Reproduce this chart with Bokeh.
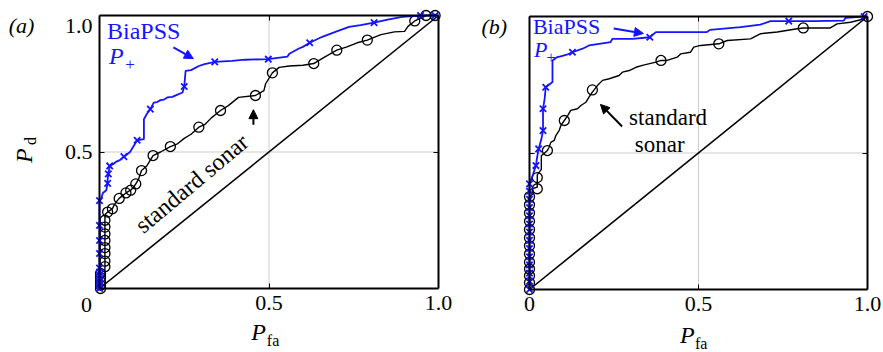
import math
from bokeh.plotting import figure
from bokeh.layouts import row
from bokeh.models import Label, Arrow, NormalHead, LinearAxis, FixedTicker, Range1d
from bokeh.embed import file_html
from bokeh.resources import INLINE

FONT = "Liberation Serif"
BLUE = "#1414ff"

# ---------------- data: panel (a) ----------------
a_chance_x = [0.0, 1.0]
a_chance_y = [0.0, 1.0]

a_bia_x = [0.0, 0.0, 0.005, 0.01, 0.02, 0.024, 0.024, 0.026, 0.03, 0.04,
           0.05, 0.06, 0.072, 0.08, 0.09, 0.10, 0.111, 0.131, 0.131, 0.14,
           0.15, 0.16, 0.17, 0.18, 0.19, 0.20, 0.215, 0.23, 0.245, 0.25,
           0.254, 0.27, 0.293, 0.31, 0.34, 0.391, 0.43, 0.498, 0.554, 0.56,
           0.588, 0.60, 0.62, 0.657, 0.696, 0.736, 0.77, 0.81, 0.85, 0.893,
           0.947, 1.0]
a_bia_y = [0.0, 0.32, 0.33, 0.35, 0.36, 0.385, 0.40, 0.42, 0.449, 0.455,
           0.465, 0.47, 0.483, 0.49, 0.50, 0.52, 0.543, 0.547, 0.62, 0.64,
           0.657, 0.681, 0.683, 0.69, 0.692, 0.70, 0.702, 0.71, 0.718, 0.74,
           0.797, 0.80, 0.815, 0.822, 0.83, 0.834, 0.838, 0.84, 0.849, 0.86,
           0.879, 0.885, 0.90, 0.922, 0.94, 0.958, 0.965, 0.974, 0.985, 0.995,
           1.0, 1.0]
a_bia_mx = [0.0] * 11 + [0.024, 0.026, 0.03, 0.072, 0.111, 0.15, 0.25, 0.34,
                         0.498, 0.62, 0.81, 0.947, 0.99]
a_bia_my = [0.0, 0.012, 0.024, 0.036, 0.048, 0.06, 0.075, 0.128, 0.176, 0.231,
            0.322, 0.385, 0.42, 0.449, 0.483, 0.543, 0.657, 0.74, 0.83,
            0.84, 0.90, 0.974, 1.0, 1.0]

a_std_x = [0.0, 0.0, 0.016, 0.016, 0.024, 0.038, 0.045, 0.058, 0.078, 0.092,
           0.10, 0.107, 0.115, 0.124, 0.14, 0.158, 0.18, 0.209, 0.23, 0.25,
           0.27, 0.293, 0.31, 0.33, 0.357, 0.38, 0.41, 0.46, 0.485, 0.49,
           0.51, 0.53, 0.56, 0.60, 0.632, 0.66, 0.70, 0.73, 0.76, 0.79,
           0.83, 0.87, 0.90, 0.91, 0.93, 0.963, 1.0]
a_std_y = [0.0, 0.03, 0.05, 0.27, 0.28, 0.292, 0.31, 0.33, 0.35, 0.36,
           0.37, 0.383, 0.40, 0.432, 0.45, 0.487, 0.50, 0.52, 0.53, 0.55,
           0.565, 0.591, 0.60, 0.625, 0.652, 0.67, 0.70, 0.707, 0.725, 0.75,
           0.79, 0.81, 0.815, 0.818, 0.824, 0.845, 0.873, 0.885, 0.90, 0.91,
           0.93, 0.94, 0.942, 0.96, 0.98, 1.0, 1.0]
a_std_mx = [0.003] * 5 + [0.016] * 8 + [0.024, 0.038, 0.058, 0.078, 0.092,
                                        0.107, 0.124, 0.158, 0.209, 0.293,
                                        0.357, 0.46, 0.51, 0.632, 0.70, 0.79,
                                        0.93, 0.963, 0.99]
a_std_my = [0.0, 0.012, 0.025, 0.04, 0.055,
            0.08, 0.10, 0.128, 0.15, 0.176, 0.20, 0.225, 0.25,
            0.28, 0.292, 0.33, 0.35, 0.36, 0.383, 0.432, 0.487, 0.52, 0.591,
            0.652, 0.707, 0.79, 0.824, 0.873, 0.91, 0.98, 1.0, 1.0]

# ---------------- data: panel (b) ----------------
b_chance_x = [0.0, 1.0]
b_chance_y = [0.0, 1.0]

b_bia_x = [0.0, 0.0, 0.01, 0.019, 0.022, 0.027, 0.035, 0.04, 0.04, 0.045,
           0.048, 0.068, 0.068, 0.08, 0.095, 0.11, 0.127, 0.157, 0.176, 0.206,
           0.24, 0.245, 0.305, 0.356, 0.374, 0.525, 0.534, 0.624, 0.683, 0.713,
           0.84, 0.93, 0.935, 0.99, 1.0]
b_bia_y = [0.0, 0.387, 0.42, 0.454, 0.48, 0.515, 0.55, 0.582, 0.662, 0.70,
           0.741, 0.76, 0.839, 0.85, 0.855, 0.86, 0.869, 0.882, 0.894, 0.90,
           0.906, 0.918, 0.918, 0.924, 0.943, 0.943, 0.951, 0.961, 0.97, 0.983,
           0.983, 0.985, 0.995, 1.0, 1.0]
b_bia_mx = [0.0] * 14 + [0.019, 0.027, 0.04, 0.04, 0.048, 0.127, 0.356,
                         0.767, 0.99]
b_bia_my = [0.0, 0.03, 0.06, 0.09, 0.12, 0.15, 0.18, 0.21, 0.24, 0.27,
            0.30, 0.33, 0.36, 0.387,
            0.454, 0.515, 0.582, 0.662, 0.741, 0.869, 0.924, 0.983, 1.0]

b_std_x = [0.0, 0.0, 0.01, 0.01, 0.023, 0.023, 0.035, 0.035, 0.053, 0.058,
           0.063, 0.073, 0.078, 0.088, 0.093, 0.103, 0.113, 0.122, 0.142, 0.152,
           0.167, 0.176, 0.186, 0.201, 0.216, 0.236, 0.265, 0.275, 0.295, 0.315,
           0.334, 0.374, 0.389, 0.407, 0.437, 0.447, 0.476, 0.486, 0.506, 0.56,
           0.585, 0.654, 0.684, 0.733, 0.792, 0.81, 0.89, 0.91, 0.95, 0.989,
           1.0]
b_std_y = [0.0, 0.34, 0.35, 0.37, 0.375, 0.42, 0.44, 0.49, 0.509, 0.521,
           0.539, 0.546, 0.564, 0.583, 0.601, 0.619, 0.637, 0.656, 0.662, 0.674,
           0.686, 0.705, 0.723, 0.747, 0.766, 0.772, 0.784, 0.796, 0.802, 0.814,
           0.821, 0.833, 0.839, 0.839, 0.851, 0.863, 0.869, 0.888, 0.894, 0.90,
           0.912, 0.918, 0.937, 0.943, 0.955, 0.958, 0.958, 0.973, 0.979, 0.991,
           1.0]
b_std_mx = [0.0] * 13 + [0.023, 0.023, 0.053, 0.103, 0.186, 0.389, 0.56,
                         0.81, 1.0]
b_std_my = [0.0, 0.025, 0.05, 0.075, 0.10, 0.13, 0.16, 0.19, 0.22, 0.25,
            0.28, 0.31, 0.34,
            0.369, 0.41, 0.509, 0.619, 0.731, 0.839, 0.90, 0.958, 1.0]

a_x_ticks = [0.5, 1.0]
b_x_ticks = [0.0, 0.5, 1.0]
y_ticks = [0.5, 1.0]
tick_text = {0.0: "0", 0.5: "0.5", 1.0: "1.0"}
grid_ticks = [0.5]
box = (0.0, 1.0)

TICK_SIZE = "22px"
H = 352


def make_axis(loc, ticks, overrides):
    ax = LinearAxis(fixed_location=loc, bounds=box,
                    ticker=FixedTicker(ticks=ticks),
                    major_tick_in=5, major_tick_out=0,
                    minor_tick_in=0, minor_tick_out=0,
                    axis_line_width=2, axis_line_color="black",
                    major_tick_line_width=1,
                    major_label_text_font=FONT,
                    major_label_text_font_size=TICK_SIZE,
                    major_label_text_color="black",
                    major_label_standoff=7,
                    major_label_overrides=overrides)
    return ax


def base_fig(width, xr, yr):
    p = figure(width=width, height=H, output_backend="svg",
               toolbar_location=None, x_range=Range1d(*xr),
               y_range=Range1d(*yr), min_border=0,
               x_axis_type=None, y_axis_type=None)
    p.outline_line_color = None
    p.background_fill_color = "white"
    p.border_fill_color = "white"
    # dotted grid inside the box only
    lo, hi = box
    p.segment(x0=grid_ticks, y0=[lo] * len(grid_ticks), x1=grid_ticks,
              y1=[hi] * len(grid_ticks), line_color="#9a9a9a",
              line_dash="1 1", line_width=1)
    p.segment(x0=[lo] * len(grid_ticks), y0=grid_ticks,
              x1=[hi] * len(grid_ticks), y1=grid_ticks,
              line_color="#9a9a9a", line_dash="1 1", line_width=1)
    return p


def add_box_axes(p, xticks, xover, yover):
    p.add_layout(make_axis(0.0, xticks, xover), "below")
    p.add_layout(make_axis(0.0, y_ticks, yover), "left")
    p.add_layout(make_axis(1.0, grid_ticks, {0.5: ""}), "above")
    p.add_layout(make_axis(1.0, grid_ticks, {0.5: ""}), "right")


def add_label(p, text, x, y, size="22px", style="normal", color="black",
              align="center", baseline="middle", angle=0.0):
    p.add_layout(Label(x=x, y=y, text=text, text_font=FONT,
                       text_font_size=size, text_font_style=style,
                       text_color=color, text_align=align,
                       text_baseline=baseline, angle=angle))


def draw_curves(p, cx, cy, bx, by, bmx, bmy, sx, sy, smx, smy):
    p.line(cx, cy, line_color="black", line_width=1.6)
    p.line(sx, sy, line_color="black", line_width=1.4)
    p.scatter(smx, smy, marker="circle", size=10, fill_color=None,
              line_color="black", line_width=1.3)
    p.line(bx, by, line_color=BLUE, line_width=1.8)
    p.scatter(bmx, bmy, marker="x", size=9, line_color=BLUE, line_width=1.8)


# ---------------- panel (a) ----------------
# canvas 470 x 352 ; box spans px 99..438 horizontally, 15..288 vertically
pa = base_fig(470, (-99 / 339, 371 / 339), (-64 / 273, 288 / 273))
draw_curves(pa, a_chance_x, a_chance_y, a_bia_x, a_bia_y, a_bia_mx, a_bia_my,
            a_std_x, a_std_y, a_std_mx, a_std_my)
add_box_axes(pa, a_x_ticks, dict(tick_text), {0.5: "0.5", 1.0: ""})

add_label(pa, "0", -0.038, -0.062, size=TICK_SIZE)
add_label(pa, "1.0", -0.021, 0.963, size=TICK_SIZE, align="right")
add_label(pa, "(a)", -0.230, 0.963, size="22px", style="italic")
add_label(pa, "P", 0.469, -0.160, size="24px", style="italic")
add_label(pa, "fa", 0.512, -0.192, size="16px")
add_label(pa, "P", -0.224, 0.487, size="24px", style="italic", angle=math.pi / 2)
add_label(pa, "d", -0.204, 0.540, size="16px", angle=math.pi / 2)
add_label(pa, "BiaPSS", 0.022, 0.945, size="24px", color=BLUE, align="left")
add_label(pa, "P", 0.050, 0.853, size="24px", style="italic", color=BLUE)
add_label(pa, "+", 0.090, 0.822, size="17px", color=BLUE)
add_label(pa, "standard sonar", 0.272, 0.385, size="24px",
          angle=math.radians(40))
pa.add_layout(Arrow(end=NormalHead(size=9, fill_color=BLUE, line_color=BLUE),
                    x_start=0.218, y_start=0.883, x_end=0.277, y_end=0.842,
                    line_color=BLUE, line_width=2))
pa.add_layout(Arrow(end=NormalHead(size=9, fill_color="black", line_color="black"),
                    x_start=0.454, y_start=0.60, x_end=0.454, y_end=0.655,
                    line_color="black", line_width=2))

# ---------------- panel (b) ----------------
# canvas 413 x 352 ; box spans px 59..397 horizontally, 16..289 vertically
pb = base_fig(413, (-59 / 338, 354 / 338), (-63 / 273, 289 / 273))
draw_curves(pb, b_chance_x, b_chance_y, b_bia_x, b_bia_y, b_bia_mx, b_bia_my,
            b_std_x, b_std_y, b_std_mx, b_std_my)
add_box_axes(pb, b_x_ticks, dict(tick_text), {0.5: "", 1.0: ""})

add_label(pb, "(b)", -0.104, 0.963, size="22px", style="italic")
add_label(pb, "P", 0.467, -0.165, size="24px", style="italic")
add_label(pb, "fa", 0.508, -0.197, size="16px")
add_label(pb, "BiaPSS", 0.010, 0.963, size="22px", color=BLUE, align="left")
add_label(pb, "P", 0.033, 0.879, size="22px", style="italic", color=BLUE)
add_label(pb, "+", 0.064, 0.850, size="16px", color=BLUE)
add_label(pb, "standard", 0.410, 0.630, size="23px")
add_label(pb, "sonar", 0.385, 0.531, size="23px")
pb.add_layout(Arrow(end=NormalHead(size=9, fill_color=BLUE, line_color=BLUE),
                    x_start=0.249, y_start=0.956, x_end=0.337, y_end=0.938,
                    line_color=BLUE, line_width=2))
pb.add_layout(Arrow(end=NormalHead(size=9, fill_color="black", line_color="black"),
                    x_start=0.274, y_start=0.597, x_end=0.21, y_end=0.678,
                    line_color="black", line_width=2))

layout = row(pa, pb)
open("out.html", "w").write(file_html(layout, INLINE))
